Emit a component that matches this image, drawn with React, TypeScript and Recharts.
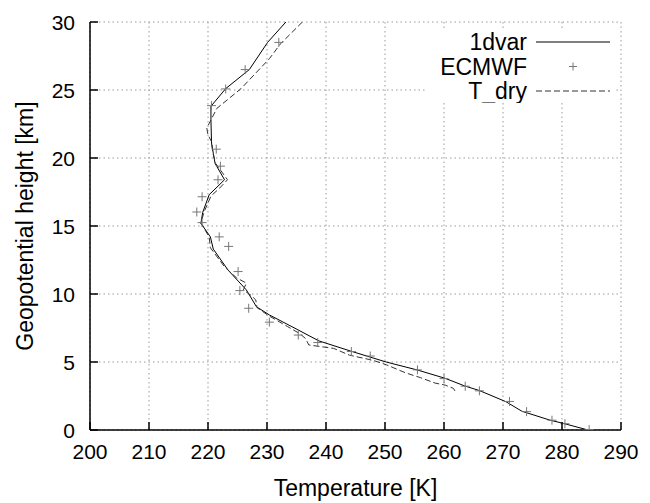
import React from 'react';
import { ComposedChart, Line, Scatter, XAxis, YAxis, CartesianGrid, Legend } from 'recharts';

const xTicks = [200, 210, 220, 230, 240, 250, 260, 270, 280, 290];
const yTicks = [0, 5, 10, 15, 20, 25, 30];
const seriesNames = ['1dvar', 'ECMWF', 'T_dry'];

const dvarT = [233.2, 230.1, 227.0, 223.0, 220.5, 220.5, 220.6, 220.9, 221.2, 222.8, 220.2, 219.1, 218.8, 220.4, 220.9, 223.4, 226.5, 228.2, 230.4, 235.1, 238.8, 244.2, 250.2, 255.5, 260.2, 263.5, 266.0, 270.5, 273.2, 278.0, 280.3, 284.4];
const dvarH = [30.0, 28.5, 26.5, 25.1, 23.8, 22.8, 21.1, 20.35, 19.6, 18.4, 17.3, 16.0, 15.2, 14.2, 13.3, 11.76, 10.3, 9.07, 8.46, 7.4, 6.55, 5.8, 5.0, 4.41, 3.8, 3.24, 2.9, 2.08, 1.38, 0.72, 0.48, 0.0];

const tdryT = [236.0, 232.3, 230.4, 225.6, 221.5, 219.8, 220.0, 220.6, 220.8, 221.3, 223.3, 222.0, 220.5, 219.3, 218.8, 220.2, 220.4, 222.8, 224.8, 226.5, 226.0, 227.3, 228.1, 228.3, 230.3, 233.5, 235.5, 236.5, 237.1, 241.3, 244.0, 248.0, 250.2, 253.5, 256.0, 258.5, 260.2, 261.6, 262.1];
const tdryH = [30.0, 28.4, 27.3, 25.1, 23.65, 22.2, 21.7, 21.2, 20.4, 19.6, 18.4, 17.8, 17.2, 16.0, 15.2, 14.2, 13.4, 12.0, 11.2, 10.8, 10.3, 9.9, 9.56, 9.0, 8.4, 7.6, 7.1, 6.74, 6.25, 6.0, 5.5, 5.12, 4.8, 4.2, 3.85, 3.45, 3.3, 3.06, 2.7];

const ecmwfT = [232.0, 226.3, 223.0, 220.6, 221.4, 222.1, 221.7, 219.0, 218.1, 219.0, 221.9, 223.5, 225.1, 225.4, 226.9, 230.4, 235.3, 238.6, 244.3, 247.5, 255.5, 260.0, 263.6, 266.0, 271.1, 274.0, 278.3, 280.5, 284.6];
const ecmwfH = [28.5, 26.5, 25.08, 23.85, 20.65, 19.4, 18.4, 17.15, 16.03, 15.25, 14.2, 13.5, 11.65, 10.25, 8.95, 7.93, 6.98, 6.43, 5.77, 5.44, 4.42, 3.78, 3.22, 2.88, 2.1, 1.35, 0.72, 0.46, 0.03];

const zip = (ts: number[], hs: number[]) => ts.map((t, i) => ({ t, h: hs[i] }));
const dvarData = zip(dvarT, dvarH);
const tdryData = zip(tdryT, tdryH);
const ecmwfData = zip(ecmwfT, ecmwfH);

const FONT = '"Liberation Sans", Arial, Helvetica, sans-serif';
const FS = 23;
const TFS = 21;
const TL = 8;
const MARK = '#777';

const BottomTick = (p: any) => (
  <g>
    <line x1={p.x} y1={p.y} x2={p.x} y2={p.y - TL} stroke="#000" strokeWidth={1.5} />
    <text x={p.x} y={p.y + 29} textAnchor="middle" fontSize={TFS} fontFamily={FONT} fill="#000">{p.payload.value}</text>
  </g>
);
const TopTick = (p: any) => (
  <line x1={p.x} y1={p.y} x2={p.x} y2={p.y + TL} stroke="#000" strokeWidth={1.5} />
);
const LeftTick = (p: any) => (
  <g>
    <line x1={p.x} y1={p.y} x2={p.x + TL} y2={p.y} stroke="#000" strokeWidth={1.5} />
    <text x={p.x - 15} y={p.y + 7.5} textAnchor="end" fontSize={TFS} fontFamily={FONT} fill="#000">{p.payload.value}</text>
  </g>
);
const RightTick = (p: any) => (
  <line x1={p.x} y1={p.y} x2={p.x - TL} y2={p.y} stroke="#000" strokeWidth={1.5} />
);

const Plus = (p: any) => {
  const { cx, cy } = p;
  if (cx == null || cy == null) return null;
  const s = 4.5;
  return (
    <g>
      <line x1={cx - s} y1={cy} x2={cx + s} y2={cy} stroke={MARK} strokeWidth={1} />
      <line x1={cx} y1={cy - s} x2={cx} y2={cy + s} stroke={MARK} strokeWidth={1} />
    </g>
  );
};

const LegendContent = () => {
  const rows = [
    { name: seriesNames[0], kind: 'solid' },
    { name: seriesNames[1], kind: 'plus' },
    { name: seriesNames[2], kind: 'dash' },
  ];
  return (
    <svg width={188} height={73} style={{ display: 'block' }}>
      {rows.map((r, i) => {
        const base = 20 + i * 24.5;
        const cy = base - 8;
        return (
          <g key={r.name}>
            <text x={101} y={base} textAnchor="end" fontSize={FS} fontFamily={FONT} fill="#000">{r.name}</text>
            {r.kind === 'solid' && <line x1={110} y1={cy} x2={184} y2={cy} stroke="#000" strokeWidth={1} />}
            {r.kind === 'dash' && <line x1={110} y1={cy} x2={184} y2={cy} stroke="#333" strokeWidth={1} strokeDasharray="6 3" />}
            {r.kind === 'plus' && (
              <g>
                <line x1={143} y1={cy} x2={151} y2={cy} stroke={MARK} strokeWidth={1} />
                <line x1={147} y1={cy - 4} x2={147} y2={cy + 4} stroke={MARK} strokeWidth={1} />
              </g>
            )}
          </g>
        );
      })}
    </svg>
  );
};

const XTitle = (props: any) => {
  const vb = props.viewBox || {};
  return (
    <text x={vb.x + vb.width / 2} y={vb.y + 66} textAnchor="middle" fontSize={FS} fontFamily={FONT} fill="#000">Temperature [K]</text>
  );
};
const YTitle = (props: any) => {
  const vb = props.viewBox || {};
  const cx = 25;
  const cy = vb.y + vb.height / 2;
  return (
    <text x={cx} y={cy} textAnchor="middle" fontSize={FS} fontFamily={FONT} fill="#000" transform={`rotate(-90, ${cx}, ${cy})`}>Geopotential height [km]</text>
  );
};

const axisLine = { stroke: '#000', strokeWidth: 1.5 };

export default function App() {
  return (
    <div style={{ width: 634, height: 495 }}>
      <ComposedChart width={634} height={495} margin={{ top: 14, right: 21, bottom: 0, left: 0 }}>
        <CartesianGrid stroke="#999" strokeDasharray="1.5 3" strokeWidth={1} />
        <XAxis xAxisId={0} dataKey="t" type="number" domain={[200, 290]} ticks={xTicks} interval={0} height={73}
          tickSize={0} tickMargin={0} tickLine={false} axisLine={axisLine} tick={BottomTick} label={{ content: XTitle }} allowDataOverflow />
        <XAxis xAxisId="top" orientation="top" type="number" domain={[200, 290]} ticks={xTicks} interval={0} height={0}
          tickSize={0} tickMargin={0} tickLine={false} axisLine={axisLine} tick={TopTick} allowDataOverflow />
        <YAxis yAxisId={0} dataKey="h" type="number" domain={[0, 30]} ticks={yTicks} interval={0} width={82}
          tickSize={0} tickMargin={0} tickLine={false} axisLine={axisLine} tick={LeftTick} label={{ content: YTitle }} allowDataOverflow />
        <YAxis yAxisId="right" orientation="right" type="number" domain={[0, 30]} ticks={yTicks} interval={0} width={0}
          tickSize={0} tickMargin={0} tickLine={false} axisLine={axisLine} tick={RightTick} allowDataOverflow />
        <Line data={dvarData} dataKey="h" name={seriesNames[0]} stroke="#000" strokeWidth={1} dot={false} activeDot={false}
          type="linear" isAnimationActive={false} />
        <Scatter data={ecmwfData} dataKey="h" name={seriesNames[1]} shape={Plus} isAnimationActive={false} />
        <Line data={tdryData} dataKey="h" name={seriesNames[2]} stroke="#333" strokeWidth={1} strokeDasharray="6 3" dot={false}
          activeDot={false} type="linear" isAnimationActive={false} />
        <Legend layout="vertical" align="center" verticalAlign="middle" content={LegendContent}
          wrapperStyle={{ position: 'absolute', left: 418, top: 22, width: 188, height: 73, background: '#fff', lineHeight: 0 }} />
      </ComposedChart>
    </div>
  );
}
